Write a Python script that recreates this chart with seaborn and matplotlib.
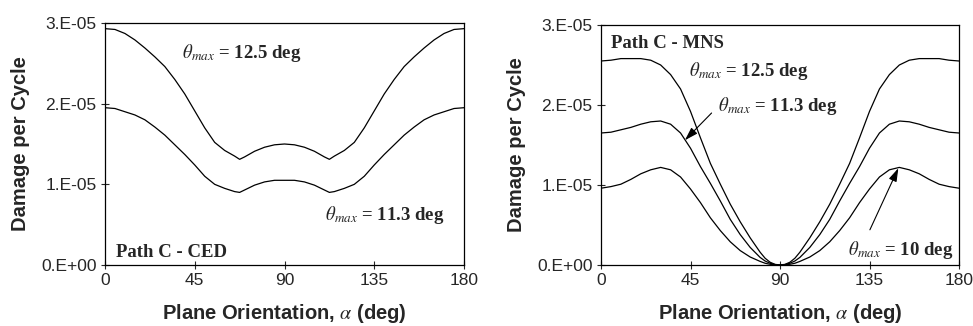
import matplotlib

matplotlib.use("Agg")
import matplotlib.pyplot as plt
import pandas as pd
import seaborn as sns

# plane orientation angles (deg)
alpha_ced = [0, 5, 10, 15, 20, 25, 30, 35, 40, 45, 50, 55, 60, 65, 67.5, 70, 75, 80, 85, 90,
             95, 100, 105, 110, 112.5, 115, 120, 125, 130, 135, 140, 145, 150, 155, 160, 165,
             170, 175, 180]
alpha_mns = [0, 5, 10, 15, 20, 25, 30, 35, 40, 45, 50, 55, 60, 65, 70, 75, 80, 82.5, 85, 87.5,
             90, 92.5, 95, 97.5, 100, 105, 110, 115, 120, 125, 130, 135, 140, 145, 150, 155,
             160, 165, 170, 175, 180]

# damage per cycle, in units of 1e-6
ced_125 = [29.3, 29.2, 28.7, 27.9, 26.9, 25.8, 24.6, 23.0, 21.2, 19.1, 17.0, 15.2, 14.2, 13.5,
           13.1, 13.4, 14.1, 14.6, 14.9, 15.0, 14.9, 14.6, 14.1, 13.4, 13.1, 13.5, 14.2, 15.2,
           17.0, 19.1, 21.2, 23.0, 24.6, 25.8, 26.9, 27.9, 28.7, 29.2, 29.3]
ced_113 = [19.5, 19.4, 19.0, 18.6, 18.0, 17.1, 16.1, 14.9, 13.7, 12.4, 11.0, 10.0, 9.5, 9.1,
           9.0, 9.3, 9.9, 10.3, 10.5, 10.5, 10.5, 10.3, 9.9, 9.3, 9.0, 9.1, 9.5, 10.0, 11.0,
           12.4, 13.7, 14.9, 16.1, 17.1, 18.0, 18.6, 19.0, 19.4, 19.5]

mns_125 = [25.5, 25.6, 25.8, 25.8, 25.8, 25.6, 25.0, 23.8, 22.0, 19.2, 15.9, 12.7, 10.1, 7.6,
           5.4, 3.4, 1.6, 0.85, 0.35, 0.08, 0.0, 0.08, 0.35, 0.85, 1.6, 3.4, 5.4, 7.6, 10.1,
           12.7, 15.9, 19.2, 22.0, 23.8, 25.0, 25.6, 25.8, 25.8, 25.8, 25.6, 25.5]
mns_113 = [16.5, 16.6, 16.9, 17.2, 17.6, 17.9, 18.0, 17.6, 16.5, 14.6, 12.3, 10.2, 8.0, 5.7,
           3.8, 2.2, 0.95, 0.5, 0.22, 0.05, 0.0, 0.05, 0.22, 0.5, 0.95, 2.2, 3.8, 5.7, 8.0,
           10.2, 12.3, 14.6, 16.5, 17.6, 18.0, 17.9, 17.6, 17.2, 16.9, 16.6, 16.5]
mns_100 = [9.6, 9.8, 10.1, 10.7, 11.4, 11.9, 12.2, 11.9, 11.0, 9.5, 7.8, 5.9, 4.3, 2.9, 1.8,
           1.0, 0.45, 0.22, 0.09, 0.02, 0.0, 0.02, 0.09, 0.22, 0.45, 1.0, 1.8, 2.9, 4.3, 5.9,
           7.8, 9.5, 11.0, 11.9, 12.2, 11.9, 11.4, 10.7, 10.1, 9.8, 9.6]

x_ticks = [0, 45, 90, 135, 180]
y_ticks = [0, 1e-5, 2e-5, 3e-5]
y_tick_labels = ["0.E+00", "1.E-05", "2.E-05", "3.E-05"]


def to_frame(alpha, series: dict) -> pd.DataFrame:
    frames = []
    for name, values in series.items():
        frames.append(pd.DataFrame({
            "alpha": alpha,
            "damage": [v * 1e-6 for v in values],
            "theta": name,
        }))
    return pd.concat(frames, ignore_index=True)


def style_axes(ax) -> None:
    ax.set_xlim(0, 180)
    ax.set_ylim(0, 3e-5)
    ax.set_xticks(x_ticks)
    ax.set_xticklabels([str(t) for t in x_ticks])
    ax.set_yticks(y_ticks)
    ax.set_yticklabels(y_tick_labels)
    ax.tick_params(direction="inout", length=6, width=0.8, labelsize=12.5, pad=3)
    for spine in ax.spines.values():
        spine.set_visible(True)
        spine.set_color("black")
        spine.set_linewidth(0.9)
    ax.set_xlabel(r"Plane Orientation, $\alpha$ (deg)", fontsize=14.5,
                  fontweight="bold", labelpad=10)
    ax.set_ylabel("Damage per Cycle", fontsize=14.5, fontweight="bold", labelpad=8)


sns.set_style("ticks")
plt.rcParams["font.family"] = ["Liberation Sans", "DejaVu Sans"]
plt.rcParams["mathtext.fontset"] = "stix"

fig = plt.figure(figsize=(9.73, 3.26), dpi=100)
ax1 = fig.add_axes([105 / 973, 61 / 326, 359 / 973, 242 / 326])
ax2 = fig.add_axes([601 / 973, 61 / 326, 358 / 973, 240 / 326])

ced = to_frame(alpha_ced, {"12.5": ced_125, "11.3": ced_113})
mns = to_frame(alpha_mns, {"12.5": mns_125, "11.3": mns_113, "10": mns_100})

sns.lineplot(data=ced, x="alpha", y="damage", units="theta", estimator=None,
             color="black", linewidth=0.9, ax=ax1)
sns.lineplot(data=mns, x="alpha", y="damage", units="theta", estimator=None,
             color="black", linewidth=0.9, ax=ax2)

style_axes(ax1)
style_axes(ax2)

serif = dict(family="Liberation Serif", fontweight="bold", fontsize=13.5, va="center")

ax1.text(38.5, 26.3e-6, r"$\theta_{max}$ = 12.5 deg", **serif)
ax1.text(110.3, 6.2e-6, r"$\theta_{max}$ = 11.3 deg", **serif)
ax1.text(5.5, 1.6e-6, "Path C - CED", **serif)

ax2.text(4.9, 27.7e-6, "Path C - MNS", **serif)
ax2.text(44.4, 24.2e-6, r"$\theta_{max}$ = 12.5 deg", **serif)
ax2.text(59.0, 19.9e-6, r"$\theta_{max}$ = 11.3 deg", **serif)
ax2.text(124.4, 1.9e-6, r"$\theta_{max}$ = 10 deg", **serif)

arrow = dict(arrowstyle="-|>,head_length=0.8,head_width=0.25", color="black",
             lw=0.8, shrinkA=0, shrinkB=0)
ax2.annotate("", xy=(42.2, 15.6e-6), xytext=(55.6, 19.0e-6), arrowprops=arrow)
ax2.annotate("", xy=(149.5, 12.1e-6), xytext=(135.2, 4.4e-6), arrowprops=arrow)

fig.savefig("out.png", dpi=100)
